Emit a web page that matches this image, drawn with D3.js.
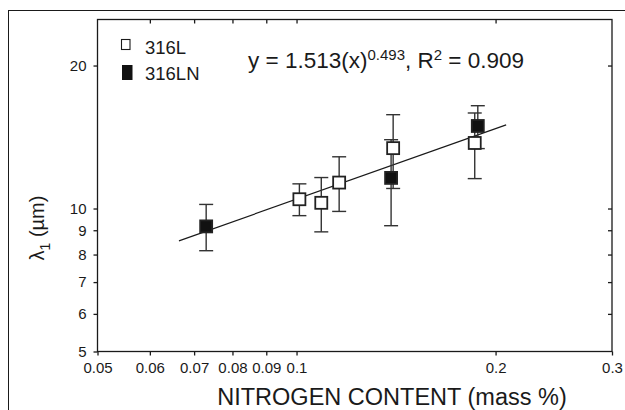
<!DOCTYPE html>
<html>
<head>
<meta charset="utf-8">
<script src="https://cdn.jsdelivr.net/npm/d3@7"></script>
<style>
  body { margin: 0; background: #fff; }
  svg { font-family: "Liberation Sans", Arial, sans-serif; }
</style>
</head>
<body>
<div id="chart"></div>
<script>
// Data.
var openX   = [0.101, 0.109, 0.116, 0.140, 0.186],
    openY   = [10.46, 10.28, 11.34, 13.40, 13.74],
    openLo  = [9.66, 8.93, 9.86, 11.02, 11.56],
    openHi  = [11.27, 11.62, 12.85, 15.76, 15.89];

var filledX  = [0.073, 0.139, 0.188],
    filledY  = [9.17, 11.60, 14.92],
    filledLo = [8.15, 9.20, 13.37],
    filledHi = [10.20, 13.96, 16.46];

// Fitted power-law line end points.
var fitX = [0.0664, 0.2075],
    fitY = [8.55, 15.0];

var xTicks = [0.05, 0.06, 0.07, 0.08, 0.09, 0.1, 0.2, 0.3],
    yTicks = [5, 6, 7, 8, 9, 10, 20];

var width = 625,
    height = 410,
    margin = {left: 97.5, right: 13, top: 19.5, bottom: 58.5},
    capHalf = 7,
    markerSize = 12,
    ink = "#1a1a1a";

var svg = d3.select("#chart").append("svg")
    .attr("width", width)
    .attr("height", height);

// Outer frame, cut off on the right and bottom like the scan.
svg.append("rect")
    .attr("x", 8.5).attr("y", 10.5)
    .attr("width", width + 10).attr("height", height + 10)
    .attr("fill", "none").attr("stroke", ink).attr("stroke-width", 1);

var x = d3.scaleLog()
    .domain([0.05, 0.3])
    .range([margin.left, width - margin.right]);

var y = d3.scaleLog()
    .domain([5, 25])
    .range([height - margin.bottom, margin.top]);

var g = svg.append("g");

// Plot box.
g.append("rect")
    .attr("x", x.range()[0]).attr("y", y.range()[1])
    .attr("width", x.range()[1] - x.range()[0])
    .attr("height", y.range()[0] - y.range()[1])
    .attr("fill", "none").attr("stroke", ink).attr("stroke-width", 1.3);

var fmt = function (d){ return String(d); };

// Bottom axis (outward ticks) with labels.
g.append("g")
    .attr("transform", "translate(0," + y.range()[0] + ")")
    .call(d3.axisBottom(x).tickValues(xTicks).tickFormat(fmt).tickSize(4).tickPadding(7))
    .call(styleAxis);

// Top axis, inward ticks, no labels.
g.append("g")
    .attr("transform", "translate(0," + y.range()[1] + ")")
    .call(d3.axisBottom(x).tickValues(xTicks.slice(1, -1)).tickFormat("").tickSize(4))
    .call(styleAxis);

// Left axis (outward ticks) with labels.
g.append("g")
    .attr("transform", "translate(" + x.range()[0] + ",0)")
    .call(d3.axisLeft(y).tickValues(yTicks).tickFormat(fmt).tickSize(4).tickPadding(7))
    .call(styleAxis);

// Right axis, inward ticks.
g.append("g")
    .attr("transform", "translate(" + x.range()[1] + ",0)")
    .call(d3.axisLeft(y).tickValues(yTicks.slice(1)).tickFormat("").tickSize(4))
    .call(styleAxis);

function styleAxis(sel){
  sel.select(".domain").remove();
  sel.selectAll("line").attr("stroke", ink).attr("stroke-width", 1.3);
  sel.selectAll("text").attr("fill", ink).style("font-size", "15px")
    .style("font-family", "'Liberation Sans', Arial, sans-serif");
}

// Fit line.
g.append("line")
    .attr("x1", x(fitX[0])).attr("y1", y(fitY[0]))
    .attr("x2", x(fitX[1])).attr("y2", y(fitY[1]))
    .attr("stroke", ink).attr("stroke-width", 1.2);

// Error bars for both series.
function drawErrors(xs, lo, hi, cls){
  var eb = g.append("g").attr("class", cls)
    .selectAll("g").data(xs).enter().append("g");
  eb.append("line")
    .attr("x1", function (d){ return x(d); })
    .attr("x2", function (d){ return x(d); })
    .attr("y1", function (d, i){ return y(lo[i]); })
    .attr("y2", function (d, i){ return y(hi[i]); });
  eb.append("line")
    .attr("x1", function (d){ return x(d) - capHalf; })
    .attr("x2", function (d){ return x(d) + capHalf; })
    .attr("y1", function (d, i){ return y(lo[i]); })
    .attr("y2", function (d, i){ return y(lo[i]); });
  eb.append("line")
    .attr("x1", function (d){ return x(d) - capHalf; })
    .attr("x2", function (d){ return x(d) + capHalf; })
    .attr("y1", function (d, i){ return y(hi[i]); })
    .attr("y2", function (d, i){ return y(hi[i]); });
  eb.selectAll("line").attr("stroke", "#333").attr("stroke-width", 1.4);
}
drawErrors(openX, openLo, openHi, "err-open");
drawErrors(filledX, filledLo, filledHi, "err-filled");

// Markers.
function drawMarkers(xs, ys, fill){
  g.append("g").selectAll("rect").data(xs).enter().append("rect")
    .attr("x", function (d){ return x(d) - markerSize / 2; })
    .attr("y", function (d, i){ return y(ys[i]) - markerSize / 2; })
    .attr("width", markerSize).attr("height", markerSize)
    .attr("fill", fill)
    .attr("stroke", "#222").attr("stroke-width", 1.8);
}
drawMarkers(openX, openY, "#fff");
drawMarkers(filledX, filledY, "#111");

// Legend.
var legend = svg.append("g");
legend.append("rect")
    .attr("x", 121.5).attr("y", 39.5).attr("width", 8.5).attr("height", 10)
    .attr("fill", "#fff").attr("stroke", ink).attr("stroke-width", 1.1);
legend.append("text").attr("x", 145).attr("y", 54)
    .style("font-size", "18.5px").attr("fill", ink).text("316L");
legend.append("rect")
    .attr("x", 122).attr("y", 65).attr("width", 10.5).attr("height", 15)
    .attr("fill", "#111");
legend.append("text").attr("x", 145).attr("y", 80)
    .style("font-size", "18.5px").attr("fill", ink).text("316LN");

// Equation.
var eq = svg.append("text").attr("x", 248).attr("y", 68)
    .style("font-size", "22.5px").attr("fill", ink);
eq.append("tspan").text("y = 1.513(x)");
eq.append("tspan").attr("dy", -8).style("font-size", "15px").text("0.493");
eq.append("tspan").attr("dy", 8).text(", R");
eq.append("tspan").attr("dy", -8).style("font-size", "15px").text("2");
eq.append("tspan").attr("dy", 8).text(" = 0.909");

// Axis titles.
svg.append("text")
    .attr("x", 392).attr("y", 405)
    .attr("text-anchor", "middle")
    .style("font-size", "23.5px").attr("fill", ink)
    .text("NITROGEN CONTENT (mass %)");

var yt = svg.append("text")
    .attr("transform", "translate(44,228) rotate(-90)")
    .attr("text-anchor", "middle")
    .style("font-size", "20px").attr("fill", ink);
yt.append("tspan").text("\u03bb");
yt.append("tspan").attr("dy", 6).style("font-size", "14px").text("1");
yt.append("tspan").attr("dy", -6).text(" (\u00b5m)");
</script>
</body>
</html>
